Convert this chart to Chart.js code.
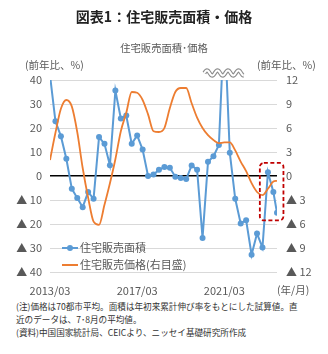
<!DOCTYPE html>
<html>
<head>
<meta charset="utf-8">
<script src="https://cdn.jsdelivr.net/npm/chart.js@4/dist/chart.umd.min.js"></script>
<style>
  body { margin: 0; background: #fff; font-family: "Noto Sans CJK JP", sans-serif; }
  #wrap { position: relative; width: 328px; height: 354px; overflow: hidden; }
  #chart { position: absolute; left: 0; top: 0; }
  .note { position: absolute; left: 16px; top: 300px; width: 305px; font-size: 8.6px; line-height: 12.8px; color: #333; white-space: nowrap; }
</style>
</head>
<body>
<div id="wrap">
  <canvas id="chart" width="328" height="298"></canvas>
  <div class="note">
    (注)価格は70都市平均。面積は年初来累計伸び率をもとにした試算値。直<br>
    近のデータは、7･8月の平均値。<br>
    (資料)中国国家統計局、CEICより、ニッセイ基礎研究所作成
  </div>
</div>
<script>
// quarterly points (last one is the Jul-Aug average)
const periods = ['2013/03', '2013/06', '2013/09', '2013/12', '2014/03', '2014/06', '2014/09', '2014/12',
  '2015/03', '2015/06', '2015/09', '2015/12', '2016/03', '2016/06', '2016/09', '2016/12',
  '2017/03', '2017/06', '2017/09', '2017/12', '2018/03', '2018/06', '2018/09', '2018/12',
  '2019/03', '2019/06', '2019/09', '2019/12', '2020/03', '2020/06', '2020/09', '2020/12',
  '2021/03', '2021/06', '2021/09', '2021/12', '2022/03', '2022/06', '2022/09', '2022/12',
  '2023/03', '2023/06', '2023/08'];

// 住宅販売面積 (前年比 %, left axis)
const salesArea = [42, 22.8, 16.6, 7.2, -5.3, -9.2, -13, -6.7, -9.5, 16.2, 13.4, 4.5,
  35.6, 24, 25.2, 13.4, 16.9, 11, 0, 0.6, 2.6, 3.7, 3.4, -0.3, -0.8, -1.3, 4.4, 2.6,
  -25.8, 5.9, 8.2, 12.9, 65, 9.7, -9.5, -19.8, -18.4, -32.8, -24, -29.8, 1.6, -6.7, -15.3];

// 住宅販売価格 (前年比 %, right axis)
const salesPrice = [2.0, 5.4, 8.4, 9.5, 8.7, 5.5, 1.0, -2.7, -5.7, -6.1, -3.6, -0.9,
  2.1, 5.6, 7.9, 10.5, 10.4, 9.5, 7.7, 5.6, 5.5, 6.0, 8.5, 10.5, 11.0, 11.0, 9.1, 7.3,
  6.0, 5.1, 4.5, 4.1, 4.2, 4.2, 3.2, 1.8, 0.6, -0.9, -2.0, -2.4, -1.6, -0.7, -0.6];

const xTickLabels = ['2013/03', '2017/03', '2021/03'];
const leftTicks = [-40, 40, 10];
const rightTicks = [-12, 12, 3];

const FONT = '"Noto Sans CJK JP", sans-serif';
const GREY = '#595959';

// months since 2013/03
function monthIdx(s) {
  const p = s.split('/');
  return (+p[0] - 2013) * 12 + (+p[1] - 3);
}
function tri(v) {
  return v < 0 ? '▲ ' + (-v) : '' + v;
}

const areaPts = periods.map((p, i) => ({ x: monthIdx(p), y: salesArea[i] }));
const pricePts = periods.map((p, i) => ({ x: monthIdx(p), y: salesPrice[i] }));

const decor = {
  id: 'decor',
  afterDatasetsDraw(chart) {
    const ctx = chart.ctx;
    const a = chart.chartArea;
    const xs = chart.scales.x, y = chart.scales.y;

    // break mark on top
    const x0 = xs.getPixelForValue(monthIdx('2020/04'));
    const x1 = xs.getPixelForValue(monthIdx('2022/02'));
    const yc = a.top - 7;
    ctx.save();
    ctx.beginPath();
    for (let x = x0; x <= x1; x += 0.5) {
      const yy = yc - 2.6 * Math.sin((x - x0) / 10.5 * Math.PI * 2);
      if (x === x0) ctx.moveTo(x, yy); else ctx.lineTo(x, yy);
    }
    ctx.strokeStyle = '#8c8c8c';
    ctx.lineWidth = 4.2;
    ctx.stroke();
    ctx.strokeStyle = '#fff';
    ctx.lineWidth = 2;
    ctx.stroke();
    ctx.restore();

    // red dashed box round the latest data
    const bx0 = xs.getPixelForValue(monthIdx('2022/10')) + 1;
    const bx1 = xs.getPixelForValue(monthIdx('2023/11')) + 1;
    const by0 = y.getPixelForValue(5.5), by1 = y.getPixelForValue(-18.5);
    ctx.save();
    ctx.strokeStyle = '#c00000';
    ctx.lineWidth = 1.8;
    ctx.setLineDash([4, 2.5]);
    ctx.beginPath();
    ctx.roundRect(bx0, by0, bx1 - bx0, by1 - by0, 4);
    ctx.stroke();
    ctx.restore();
  },
  afterDraw(chart) {
    const ctx = chart.ctx;
    const a = chart.chartArea;
    ctx.save();
    ctx.textBaseline = 'middle';

    ctx.fillStyle = '#222';
    ctx.font = 'bold 14px ' + FONT;
    ctx.textAlign = 'center';
    ctx.fillText('図表1：住宅販売面積・価格', 164, 17);

    ctx.fillStyle = GREY;
    ctx.font = '10.3px ' + FONT;
    ctx.fillText('住宅販売面積･価格', 164, 48);

    ctx.font = '10.5px ' + FONT;
    ctx.textAlign = 'left';
    ctx.fillText('(前年比、%)', 25, 65);
    ctx.fillText('(前年比、%)', 257, 65);
    ctx.fillText('(年/月)', 277, 290);

    // legend inside plot
    const ds = chart.data.datasets;
    const lx = a.left + 12;
    [a.bottom - 24, a.bottom - 7].forEach((ly, i) => {
      const d = ds[i];
      ctx.strokeStyle = d.borderColor;
      ctx.lineWidth = 2;
      ctx.beginPath();
      ctx.moveTo(lx, ly);
      ctx.lineTo(lx + 16, ly);
      ctx.stroke();
      if (d.pointRadius) {
        ctx.fillStyle = d.borderColor;
        ctx.beginPath();
        ctx.arc(lx + 8, ly, 3, 0, Math.PI * 2);
        ctx.fill();
      }
      ctx.fillStyle = GREY;
      ctx.font = '11px ' + FONT;
      ctx.fillText(d.label, lx + 18, ly);
    });
    ctx.restore();
  }
};

new Chart(document.getElementById('chart'), {
  type: 'line',
  data: {
    datasets: [{
      label: '住宅販売面積',
      data: areaPts,
      yAxisID: 'y',
      borderColor: '#5b9bd5',
      backgroundColor: '#5b9bd5',
      borderWidth: 2,
      pointRadius: 3,
      pointBorderWidth: 0,
      tension: 0,
      order: 2
    }, {
      label: '住宅販売価格(右目盛)',
      data: pricePts,
      yAxisID: 'y2',
      borderColor: '#ed7d31',
      backgroundColor: '#ed7d31',
      borderWidth: 1.8,
      pointRadius: 0,
      cubicInterpolationMode: 'monotone',
      order: 1
    }]
  },
  options: {
    responsive: false,
    animation: false,
    layout: { padding: { top: 80, left: 0, right: 0, bottom: 0 } },
    plugins: {
      legend: { display: false },
      title: { display: false },
      tooltip: { enabled: false }
    },
    scales: {
      x: {
        type: 'linear',
        min: 0,
        max: monthIdx(periods[periods.length - 1]),
        grid: { display: false },
        border: { display: false },
        afterFit(s) { s.height = 26; },
        afterBuildTicks(s) { s.ticks = xTickLabels.map(l => ({ value: monthIdx(l) })); },
        ticks: {
          padding: 4,
          color: GREY,
          font: { family: FONT, size: 11 },
          maxRotation: 0,
          callback: v => xTickLabels.find(l => monthIdx(l) === v) || ''
        }
      },
      y: {
        position: 'left',
        min: leftTicks[0],
        max: leftTicks[1],
        afterFit(s) { s.width = 50; },
        border: { display: false },
        grid: {
          drawTicks: false,
          color: c => c.tick.value === 0 ? '#000' : '#d9d9d9',
          lineWidth: c => c.tick.value === 0 ? 1.6 : 1
        },
        ticks: {
          stepSize: leftTicks[2],
          padding: 8,
          color: GREY,
          font: { family: FONT, size: 11 },
          callback: v => tri(v)
        }
      },
      y2: {
        position: 'right',
        min: rightTicks[0],
        max: rightTicks[1],
        afterFit(s) { s.width = 51; },
        border: { display: false },
        grid: { display: false, drawTicks: false },
        ticks: {
          stepSize: rightTicks[2],
          padding: 9,
          color: GREY,
          font: { family: FONT, size: 11 },
          callback: v => tri(v)
        }
      }
    }
  },
  plugins: [decor]
});
</script>
</body>
</html>
